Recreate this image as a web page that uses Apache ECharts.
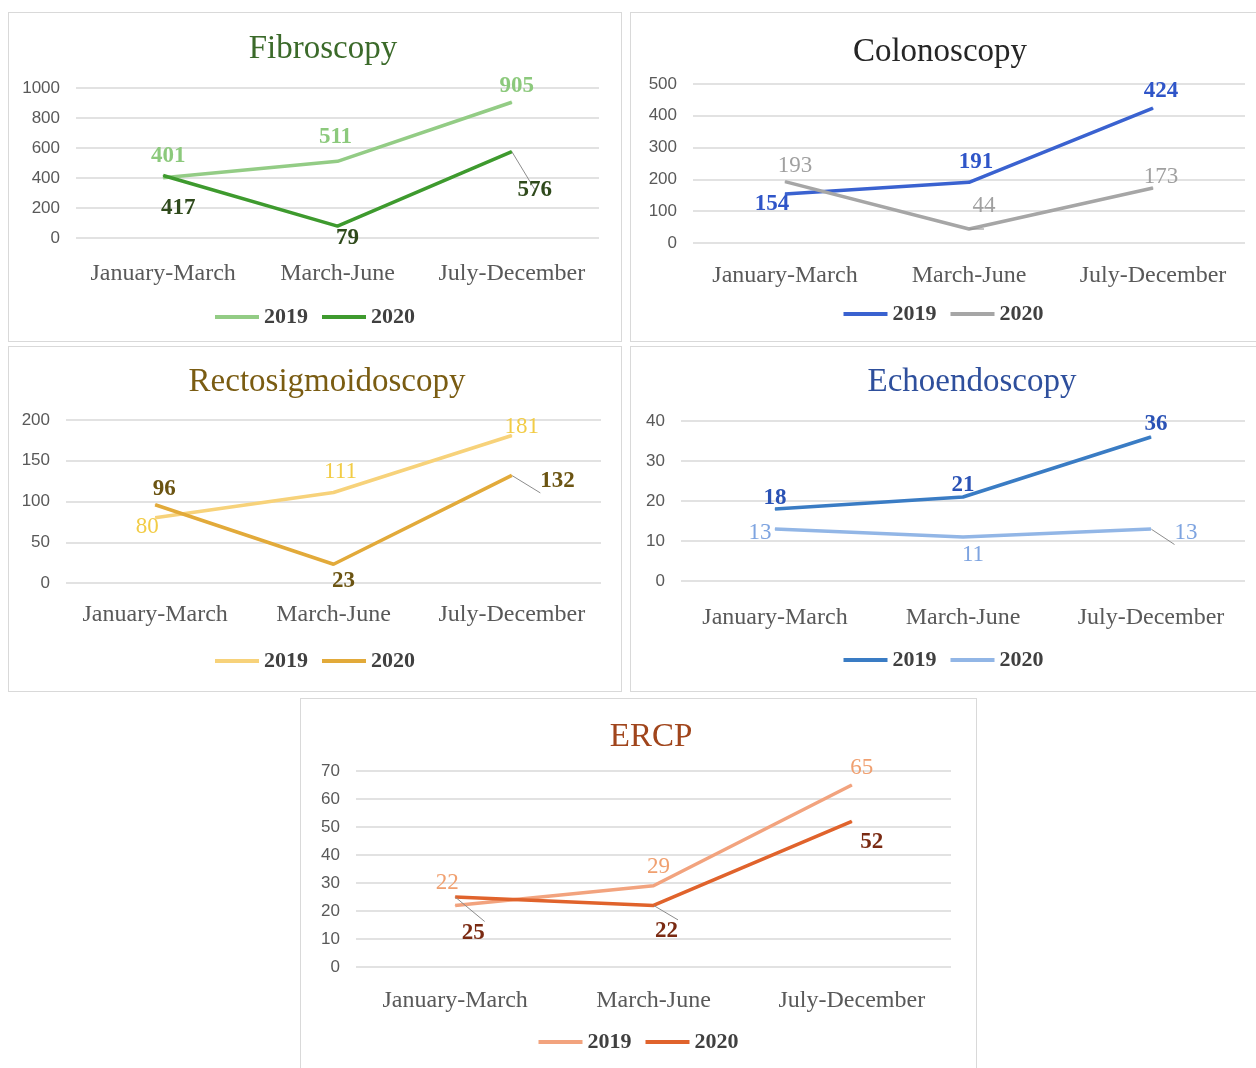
<!DOCTYPE html>
<html>
<head>
<meta charset="utf-8">
<script src="https://cdn.jsdelivr.net/npm/echarts@6/dist/echarts.min.js"></script>
<style>
html,body{margin:0;padding:0;background:#fff;width:1256px;height:1068px;overflow:hidden;}
.panel{position:absolute;box-sizing:border-box;border:1.5px solid #d9d9d9;background:#fff;}
</style>
</head>
<body>
<div id="p1" class="panel" style="left:8px;top:12px;width:614px;height:330px;"></div>
<div id="p2" class="panel" style="left:630px;top:12px;width:626px;height:330px;border-right:none;"></div>
<div id="p3" class="panel" style="left:8px;top:346px;width:614px;height:346px;"></div>
<div id="p4" class="panel" style="left:630px;top:346px;width:626px;height:346px;border-right:none;"></div>
<div id="p5" class="panel" style="left:300px;top:698px;width:677px;height:372px;border-bottom:none;"></div>
<script>
// ---- data ----
const categories = ['January-March', 'March-June', 'July-December'];
const seriesNames = ['2019', '2020'];
const fibroscopy2019 = [401, 511, 905];
const fibroscopy2020 = [417, 79, 576];
const colonoscopy2019 = [154, 191, 424];
const colonoscopy2020 = [193, 44, 173];
const rectosigmoidoscopy2019 = [80, 111, 181];
const rectosigmoidoscopy2020 = [96, 23, 132];
const echoendoscopy2019 = [18, 21, 36];
const echoendoscopy2020 = [13, 11, 13];
const ercp2019 = [22, 29, 65];
const ercp2020 = [25, 22, 52];
const titles = ['Fibroscopy', 'Colonoscopy', 'Rectosigmoidoscopy', 'Echoendoscopy', 'ERCP'];
const yMax = [1000, 500, 200, 40, 70];
const yStep = [200, 100, 50, 10, 10];

// ---- styles ----
const SERIF = '"Liberation Serif","DejaVu Serif",serif';
const SANS = '"Liberation Sans",Arial,sans-serif';
// label style per point: [position, offset, leaderLine]
const panels = [
  { id:'p1', data:[fibroscopy2019, fibroscopy2020], titleColor:'#3b6a2a', titleX:309, titleTop:15,
    grid:{left:67,right:22,top:75,bottom:103}, catMargin:24, legendTop:288,
    colors:['#93cc85','#3e9a2e'], labelColors:['#8cc97c','#2f4a1c'], bold:[true,true],
    labels:[ [['top',[5,-6]],['top',[-2,-8]],['top',[5,0]]],
             [['bottom',[15,17]],['bottom',[10,-4]],['bottom',[23,22],true]] ] },
  { id:'p2', data:[colonoscopy2019, colonoscopy2020], titleColor:'#262626', titleX:304, titleTop:18,
    grid:{left:62,right:11,top:71,bottom:98}, catMargin:21, legendTop:285,
    colors:['#3a62d0','#a6a6a6'], labelColors:['#2f55c8','#a0a0a0'], bold:[true,false],
    labels:[ [['bottom',[-13,-6]],['top',[7,-4]],['top',[8,-1]]],
             [['top',[10,0]],['top',[15,-7],true],['top',[8,5]]] ] },
  { id:'p3', data:[rectosigmoidoscopy2019, rectosigmoidoscopy2020], titleColor:'#7a5c12', titleX:313, titleTop:14,
    grid:{left:57,right:20,top:73,bottom:108}, catMargin:20, legendTop:298,
    colors:['#f7d27a','#e2aa3a'], labelColors:['#f2cc46','#6b5412'], bold:[false,true],
    labels:[ [['bottom',[-8,-7]],['top',[7,-5]],['top',[10,7]]],
             [['top',[9,0]],['bottom',[10,1]],['right',[24,6],true]] ] },
  { id:'p4', data:[echoendoscopy2019, echoendoscopy2020], titleColor:'#2e4f9c', titleX:336, titleTop:14,
    grid:{left:50,right:11,top:74,bottom:110}, catMargin:25, legendTop:297,
    colors:['#3a7cc4','#92b6e6'], labelColors:['#2a52b5','#7ea4e0'], bold:[true,false],
    labels:[ [['top',[0,5]],['top',[0,4]],['top',[5,3]]],
             [['left',[1,4]],['bottom',[10,2]],['right',[19,4],true]] ] },
  { id:'p5', data:[ercp2019, ercp2020], titleColor:'#a0451c', titleX:345, titleTop:17,
    grid:{left:55,right:25,top:72,bottom:103}, catMargin:22, legendTop:327,
    colors:['#f2a37e','#e0632c'], labelColors:['#f0a070','#7a2a12'], bold:[false,true],
    labels:[ [['top',[-8,-6]],['top',[5,-3]],['top',[10,-1]]],
             [['bottom',[18,20],true],['bottom',[13,10],true],['bottom',[20,5]]] ] }
];

panels.forEach(function(p, pi){
  const chart = echarts.init(document.getElementById(p.id), null, {renderer:'canvas'});
  const series = p.data.map(function(vals, si){
    return {
      name: seriesNames[si],
      type: 'line',
      data: vals.map(function(v, i){
        const L = p.labels[si][i];
        return { value: v,
                 label: { position: L[0], offset: L[1] },
                 labelLine: { show: !!L[2] } };
      }),
      symbol: 'circle', symbolSize: 1,
      lineStyle: { width: 3.5, color: p.colors[si] },
      itemStyle: { color: p.colors[si] },
      label: { show: true, fontFamily: SERIF, fontSize: 23, fontWeight: p.bold[si] ? 'bold' : 'normal',
               color: p.labelColors[si], distance: 4 },
      labelLine: { show: false, lineStyle: { color: '#8c8c8c', width: 1 } },
      emphasis: { disabled: true },
      animation: false
    };
  });
  chart.setOption({
    animation: false,
    title: { text: titles[pi], left: p.titleX, top: p.titleTop, textAlign: 'center',
             textStyle: { fontFamily: SERIF, fontSize: 33, fontWeight: 'normal', color: p.titleColor } },
    legend: { data: seriesNames, top: p.legendTop, left: 'center', icon: 'rect', itemWidth: 44, itemHeight: 4,
              itemGap: 14, textStyle: { fontFamily: SERIF, fontSize: 22, fontWeight: 'bold', color: '#404040' } },
    grid: p.grid,
    xAxis: { type: 'category', data: categories, boundaryGap: true,
             axisLine: { show: false }, axisTick: { show: false },
             axisLabel: { interval: 0, hideOverlap: false, margin: p.catMargin, fontFamily: SERIF, fontSize: 24, color: '#595959' } },
    yAxis: { type: 'value', min: 0, max: yMax[pi], interval: yStep[pi],
             axisLine: { show: false }, axisTick: { show: false },
             axisLabel: { margin: 16, fontFamily: SANS, fontSize: 17, color: '#595959',
                          formatter: function(v){ return String(v); } },
             splitLine: { lineStyle: { color: '#d9d9d9', width: 1.5 } } },
    series: series
  });
});
</script>
</body>
</html>
